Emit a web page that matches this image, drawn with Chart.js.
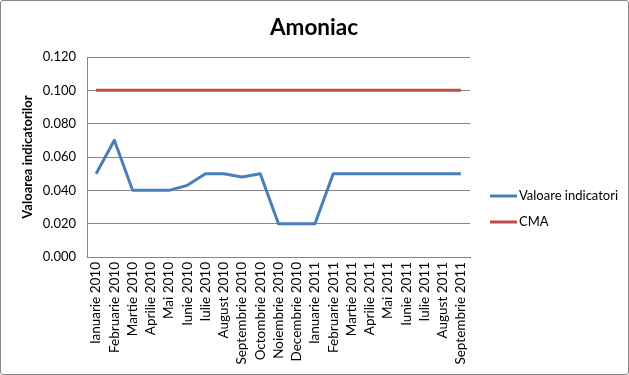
<!DOCTYPE html>
<html>
<head>
<meta charset="utf-8">
<script src="https://cdn.jsdelivr.net/npm/chart.js@4"></script>
<style>
html,body{margin:0;padding:0;background:#fff;}
#wrap{width:627px;height:373px;border:1px solid #868686;border-radius:3px;position:relative;}
canvas{display:block;}
</style>
</head>
<body>
<div id="wrap"><canvas id="c" width="627" height="373"></canvas></div>
<script>
const categories = ["Ianuarie 2010","Februarie 2010","Martie 2010","Aprilie 2010","Mai 2010","Iunie 2010","Iulie 2010","August 2010","Septembrie 2010","Octombrie 2010","Noiembrie 2010","Decembrie 2010","Ianuarie 2011","Februarie 2011","Martie 2011","Aprilie 2011","Mai 2011","Iunie 2011","Iulie 2011","August 2011","Septembrie 2011"];
const valoareIndicatori = [0.050,0.070,0.040,0.040,0.040,0.043,0.050,0.050,0.048,0.050,0.020,0.020,0.020,0.050,0.050,0.050,0.050,0.050,0.050,0.050,0.050];
const cma = [0.100,0.100,0.100,0.100,0.100,0.100,0.100,0.100,0.100,0.100,0.100,0.100,0.100,0.100,0.100,0.100,0.100,0.100,0.100,0.100,0.100];
const yTicks = [0, 0.02, 0.04, 0.06, 0.08, 0.10, 0.12];
const chartTitle = 'Amoniac';

const FONT = "Lato, 'Open Sans', sans-serif";

const titleLegendPlugin = {
  id: 'titleLegend',
  afterDraw(chart) {
    const ctx = chart.ctx;
    ctx.save();
    ctx.font = "bold 22.5px " + FONT;
    ctx.textAlign = 'center';
    ctx.textBaseline = 'alphabetic';
    ctx.fillStyle = '#000';
    ctx.fillText(chartTitle, 313, 34);
    const ds = chart.data.datasets;
    const x0 = 489, top = 195, gap = 26;
    ctx.font = "13px " + FONT;
    ctx.textAlign = 'left';
    ctx.textBaseline = 'middle';
    ds.forEach((d, i) => {
      const y = top + i * gap;
      ctx.strokeStyle = d.borderColor;
      ctx.lineWidth = 3;
      ctx.beginPath();
      ctx.moveTo(x0, y);
      ctx.lineTo(x0 + 27, y);
      ctx.stroke();
      ctx.fillStyle = '#000';
      ctx.fillText(d.label, x0 + 29, y);
    });
    ctx.restore();
  }
};

new Chart(document.getElementById('c'), {
  type: 'line',
  data: {
    labels: categories,
    datasets: [
      { label: 'Valoare indicatori', data: valoareIndicatori, borderColor: '#4A7EBB', backgroundColor: '#4A7EBB', borderWidth: 3, pointRadius: 0, tension: 0, borderJoinStyle: 'round' },
      { label: 'CMA', data: cma, borderColor: '#BE4B48', backgroundColor: '#BE4B48', borderWidth: 3, pointRadius: 0, tension: 0 }
    ]
  },
  options: {
    responsive: false,
    animation: false,
    layout: { padding: { left: 0, right: 158, top: 56, bottom: 0 } },
    plugins: {
      legend: { display: false },
      tooltip: { enabled: false },
      title: { display: false }
    },
    scales: {
      x: {
        offset: true,
        grid: { display: false, drawTicks: false },
        border: { display: true, color: '#868686', width: 1 },
        ticks: { color: '#000', font: { family: FONT, size: 13.5 }, maxRotation: 90, minRotation: 90, autoSkip: false, padding: 5 },
        afterFit(scale) { scale.height = 117; }
      },
      y: {
        min: 0, max: 0.12,
        afterBuildTicks(scale) { scale.ticks = yTicks.map(v => ({ value: v })); },
        grid: { color: '#868686', lineWidth: 1, drawTicks: false },
        border: { display: true, color: '#868686', width: 1 },
        ticks: { color: '#000', font: { family: FONT, size: 13 }, padding: 11, callback: v => Number(v).toFixed(3) },
        title: { display: true, text: 'Valoarea indicatorilor', color: '#000', font: { family: FONT, size: 13, weight: 'bold' }, padding: { top: 19, bottom: 0 } },
        afterFit(scale) { scale.width = 86; }
      }
    }
  },
  plugins: [titleLegendPlugin]
});
</script>
</body>
</html>
